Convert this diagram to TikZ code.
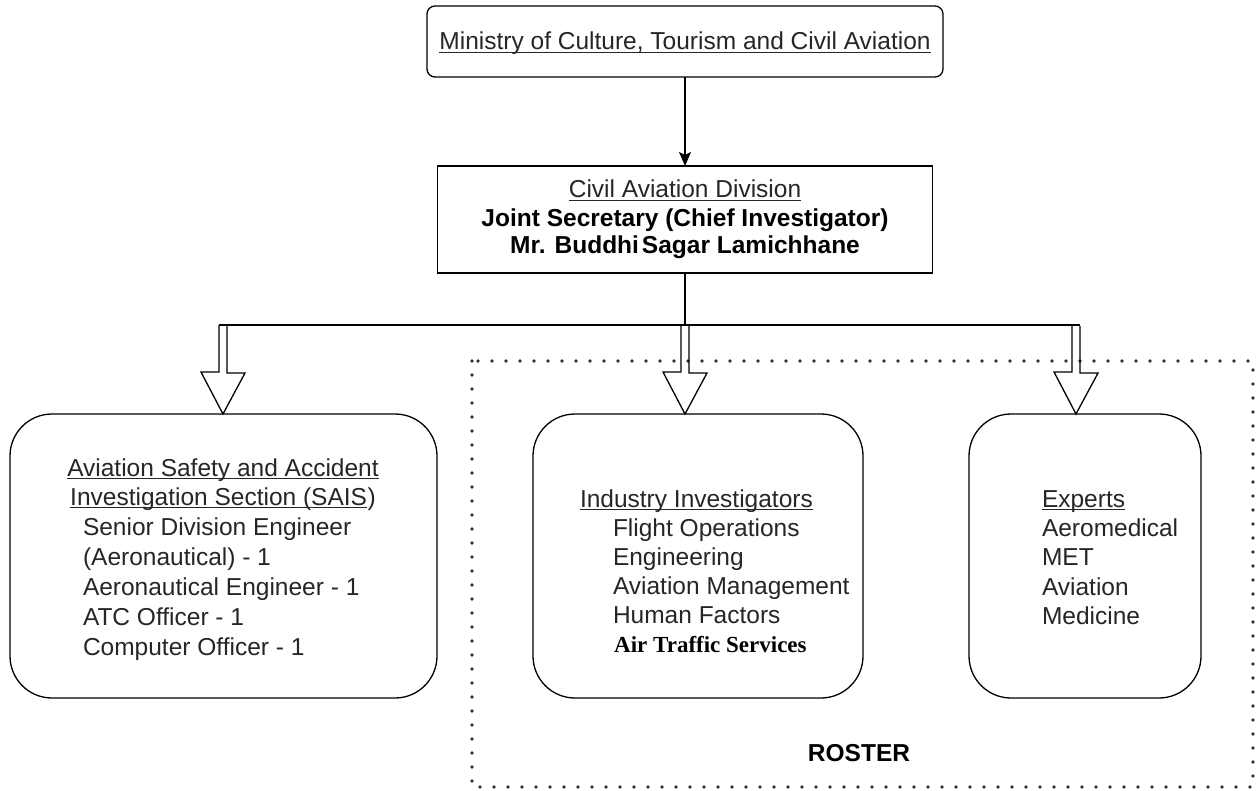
\documentclass[tikz,border=0pt]{standalone}
\usepackage{fontspec}
\setmainfont{Liberation Sans}
\newfontfamily\timesfont{Liberation Serif}
\usetikzlibrary{arrows.meta,calc}
\newcommand\ulx[1]{\setbox0\hbox{#1}\rlap{\rule[-3.3pt]{\wd0}{1.1pt}}\box0}
\definecolor{txtgray}{HTML}{262626}
\tikzset{
  box/.style={draw, line width=1.3pt, inner sep=0pt, outer sep=0pt},
  smallround/.style={box, rounded corners=8pt},
  biground/.style={box, rounded corners=42pt},
  txt/.style={inner sep=0pt, outer sep=0pt, text=txtgray, font=\fontsize{24.5}{29}\selectfont},
  btxt/.style={inner sep=0pt, outer sep=0pt, text=black, font=\fontsize{24.5}{29}\selectfont\bfseries},
  hollow/.style={draw, line width=1.3pt, line join=miter},
  conn/.style={line width=1.3pt},
  dotted box/.style={draw=black!80, line width=3.8pt, line cap=round, dash pattern=on 0pt off 14pt}
}
\begin{document}
\begin{tikzpicture}[x=1pt,y=-1pt]
\useasboundingbox (0,0) rectangle (1257,791);
% roster frame
\draw[dotted box] (472,361) rectangle (1253,787);
% boxes
\node[smallround, minimum width=516pt, minimum height=71pt] (min) at (685,41.5) {};
\node[box, minimum width=495pt, minimum height=107pt] (cad) at (685,219.5) {};
\node[biground, minimum width=427pt, minimum height=284pt] (sais) at (223.5,556) {};
\node[biground, minimum width=330pt, minimum height=284pt] (ind) at (698,556) {};
\node[biground, minimum width=232pt, minimum height=284pt] (exp) at (1085,556) {};
% texts
\node[txt, anchor=base] (mint) at (685,50) {\ulx{Ministry of Culture, Tourism and Civil Aviation}};
\node[txt, anchor=base] (cadt1) at (685,198) {\ulx{Civil Aviation Division}};
\node[btxt, anchor=base] (cadt2) at (685,227) {Joint Secretary (Chief Investigator)};
\node[btxt, anchor=base] (cadt3) at (685,254) {Mr. Buddhi\kern3pt Sagar Lamichhane};
\node[txt, anchor=base] (s1) at (223,476) {\ulx{Aviation Safety and Accident}};
\node[txt, anchor=base] (s2) at (223,505) {\ulx{Investigation Section (SAIS}\kern0.5pt)};
\node[txt, anchor=base west] (s3) at (83,535) {Senior Division Engineer};
\node[txt, anchor=base west] (s4) at (83,565) {(Aeronautical) - 1};
\node[txt, anchor=base west] (s5) at (83,595) {Aeronautical Engineer - 1};
\node[txt, anchor=base west] (s6) at (83,625) {ATC Officer - 1};
\node[txt, anchor=base west] (s7) at (83,655) {Computer Officer - 1};
\node[txt, anchor=base west] (i1) at (580,507) {\ulx{Industry Investigators}};
\node[txt, anchor=base west] (i2) at (613,536) {Flight Operations};
\node[txt, anchor=base west] (i3) at (613,565) {Engineering};
\node[txt, anchor=base west] (i4) at (613,594) {Aviation Management};
\node[txt, anchor=base west] (i5) at (613,623) {Human Factors};
\node[inner sep=0pt, anchor=base west, font=\timesfont\bfseries\fontsize{23}{27}\selectfont] (i6) at (614,652) {Air Traffic Services};
\node[txt, anchor=base west] (e1) at (1042,507) {\ulx{Experts}};
\node[txt, anchor=base west] (e2) at (1042,536) {Aeromedical};
\node[txt, anchor=base west] (e3) at (1042,565) {MET};
\node[txt, anchor=base west] (e4) at (1042,595) {Aviation};
\node[txt, anchor=base west] (e5) at (1042,624) {Medicine};
\node[btxt, anchor=base] (roster) at (859,761) {ROSTER};
% connectors
\draw[conn, -{Stealth[length=14pt, width=12pt, inset=3pt]}] (min.south) -- (cad.north);
\coordinate (busL) at (223,325);
\coordinate (busM) at (685,325);
\coordinate (busR) at (1076,325);
\draw[conn] (cad.south) -- (busM);
\draw[conn] ([xshift=-4pt]busL) -- ([xshift=4pt]busR);
\newcommand\hollowarrow[2]{%
  \draw[hollow] (#1) ++(-4,0) -- ++(0,47) -- ++(-18,0) -- (#1 |- #2.north) -- ++(22,-41) -- ++(-18,0) -- ++(0,-47);}
\hollowarrow{busL}{sais}
\hollowarrow{busM}{ind}
\hollowarrow{busR}{exp}
\end{tikzpicture}
\end{document}
